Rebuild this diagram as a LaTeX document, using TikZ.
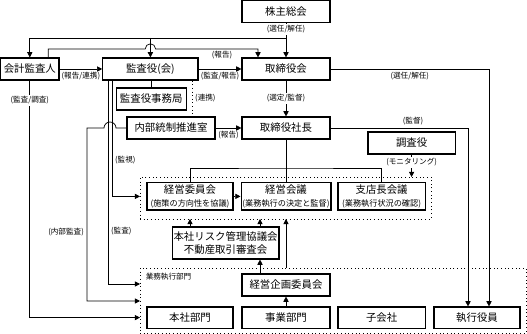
\documentclass[tikz,border=0pt]{standalone}
\usepackage{fontspec}
\setmainfont{Noto Sans CJK JP}
\usetikzlibrary{arrows.meta}
\newcommand{\subtxt}{\fontsize{5.8}{7}\selectfont}
\begin{document}
\begin{tikzpicture}[font=\fontsize{7.4}{9}\selectfont, line width=0.5pt]
  \tikzset{
    box/.style={draw, line width=0.8pt, fill=white, minimum width=2.2cm, minimum height=0.55cm, inner sep=1pt, align=center},
    grp/.style={draw, dotted, line width=0.6pt, outer sep=0pt},
    lab/.style={font=\fontsize{5.4}{6}\selectfont, inner sep=1pt},
    arr/.style={-{Triangle[length=1.3mm,width=1.3mm]}}
  }
  \useasboundingbox (0,0) rectangle (13.175,8.35);
  % boxes
  \node[box] (kabu) at (7.15,8.06) {株主総会};
  \node[box, minimum width=1.46cm] (kaikei) at (0.745,6.625) {会計監査人};
  \node[box, minimum width=2.38cm] (kansa) at (3.76,6.625) {監査役(会)};
  \node[box] (torikai) at (7.15,6.625) {取締役会};
  \node[box, minimum width=1.75cm] (jimu) at (3.78,5.875) {監査役事務局};
  \node[box] (naibu) at (4.275,5.15) {内部統制推進室};
  \node[box] (shacho) at (7.15,5.15) {取締役社長};
  \node[box, minimum width=2.18cm] (chosa) at (10.29,4.775) {調査役};
  \node[grp, minimum width=7.275cm, minimum height=1.05cm] (kaigis) at (7.1375,3.4) {};
  \node[box, minimum width=2.15cm, minimum height=0.68cm] (keiei) at (4.75,3.44) {経営委員会\\\subtxt (施策の方向性を協議)};
  \node[box, minimum width=2.2cm, minimum height=0.68cm] (kaigi) at (7.15,3.44) {経営会議\\\subtxt (業務執行の決定と監督)};
  \node[box, minimum width=2.18cm, minimum height=0.68cm] (shiten) at (9.54,3.44) {支店長会議\\\subtxt (業務執行状況の確認)};
  \node[box, minimum width=2.63cm, minimum height=0.8cm] (risk) at (5.64,2.275) {本社リスク管理協議会\\不動産取引審査会};
  \node[grp, minimum width=9.65cm, minimum height=1.625cm] (gyomu) at (8.325,0.8375) {};
  \node[lab, anchor=west] (gyomulab) at (3.6,1.43) {業務執行部門};
  \node[box] (kikaku) at (7.15,1.225) {経営企画委員会};
  \node[box, minimum width=2.15cm, minimum height=0.53cm] (honsha) at (4.75,0.41) {本社部門};
  \node[box, minimum width=2.2cm, minimum height=0.53cm] (jigyo) at (7.15,0.41) {事業部門};
  \node[box, minimum width=2.18cm, minimum height=0.53cm] (kogaisha) at (9.54,0.41) {子会社};
  \node[box, minimum width=2.15cm, minimum height=0.53cm] (shikko) at (11.925,0.41) {執行役員};
  % helper points
  \coordinate (jA) at (7.15,7.4);
  \coordinate (jB) at (7.15,4.15);
  \coordinate (hop1) at (3.76,7.125);
  \coordinate (hop2) at (2.75,5.15);
  \coordinate (xR) at (6.5,0);
  \coordinate (xK1) at (2.7,0);
  \coordinate (xK2) at (2.8,0);
  \coordinate (xN) at (2.175,0);
  \coordinate (yK1) at (0,1.25);
  \coordinate (yN) at (0,0.825);
  % shareholders meeting
  \draw[arr] (kabu) -- node[lab, pos=0.18, fill=white] (l1) {(選任/解任)} (torikai);
  \draw[arr] (jA) -| (kaikei.north);
  \draw[arr] (kansa.north |- jA) -- (kansa.north);
  \draw[arr] ([xshift=0.46cm]kaikei.north) |- ([xshift=-0.13cm]hop1) arc[start angle=180, end angle=0, radius=0.13] -| ([xshift=-0.7cm]torikai.north);
  \node[lab] (l2) at (5.55,6.98) {(報告)};
  % top row
  \draw[arr] (kaikei) -- (kansa) node[lab, midway, below=1pt] (l3) {(報告/連携)};
  \draw[arr] (kansa) -- (torikai) node[lab, midway, below=1pt] (l4) {(監査/報告)};
  \draw (jimu.north) -- (jimu.north |- kansa.south);
  \draw[dotted, line width=0.6pt] ([xshift=1.04cm]kansa.south) -- ([xshift=1.04cm]kansa.south |- naibu.north) node[lab, midway, right=1pt] (l5) {(連携)};
  \draw[arr] (naibu) -- (shacho) node[lab, midway, below=1pt] (l6) {(報告)};
  \draw[arr] (torikai) -- node[lab, fill=white] (l7) {(選定/監督)} (shacho);
  \draw[arr] (torikai.east) -| ([xshift=0.3cm]shikko.north) node[lab, pos=0.25, below=1pt] (l8) {(選任/解任)};
  \draw[arr] (shacho.east) -| ([xshift=-0.225cm]shikko.north) node[lab, pos=0.3, above=1pt] (l9) {(監督)};
  \draw[arr] (chosa) -- node[lab, pos=0.35, fill=white] (l10) {(モニタリング)} (chosa |- kaigis.north);
  % president and meetings
  \draw (shacho) -- (kaigi);
  \draw (keiei.north) |- (jB) -| (shiten.north);
  \draw[arr] (keiei) -- (kaigi);
  \draw[arr] (risk.north -| keiei.south) -- (keiei.south |- kaigis.south);
  \draw[arr] (risk.north -| xR) -- (kaigis.south -| xR);
  \draw[arr] (kikaku.north -| xR) -- (risk.south -| xR);
  \draw[arr] (gyomu.north -| kaigi.south) -- (kaigi.south |- kaigis.south);
  \draw[arr] (jigyo) -- (kikaku);
  % audit lines on the left
  \draw[arr] (kansa.south -| xK1) |- (gyomu.west |- yK1) node[lab, pos=0.37, right=1pt] (l11) {(監査)};
  \draw[arr] (kansa.south -| xK2) |- (kaigis.west |- keiei) node[lab, pos=0.344, right=1pt] (l12) {(監視)};
  \draw[arr] (naibu.west) -- ([xshift=0.15cm]hop2) arc[start angle=0, end angle=180, radius=0.15] -- (hop2 -| xN) |- (gyomu.west |- yN) node[lab, pos=0.3, left=1pt] (l13) {(内部監査)};
  \draw[arr] (kaikei.south) |- (gyomu.west |- honsha) node[lab, pos=0.042, fill=white] (l14) {(監査/調査)};
\end{tikzpicture}
\end{document}
